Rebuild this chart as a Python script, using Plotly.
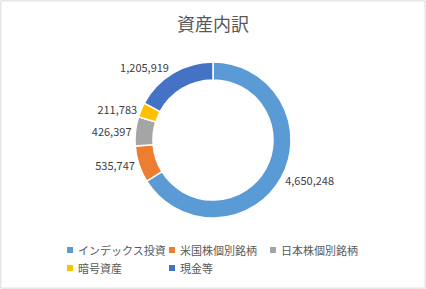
import plotly.graph_objects as go

categories = ["インデックス投資", "米国株個別銘柄", "日本株個別銘柄", "暗号資産", "現金等"]
values = [4650248, 535747, 426397, 211783, 1205919]
colors = ["#5B9BD5", "#ED7D31", "#A5A5A5", "#FFC000", "#4472C4"]
title = "資産内訳"

W, H = 426, 289
cx, cy, r = 213, 140, 78

fig = go.Figure(go.Pie(
    labels=categories,
    values=values,
    hole=0.77,
    sort=False,
    direction="clockwise",
    rotation=0,
    marker=dict(colors=colors, line=dict(color="white", width=1.5)),
    textposition="outside",
    texttemplate="%{value:,}",
    textfont=dict(size=11, color="#404040", family="Noto Sans CJK JP"),
    domain=dict(x=[(cx - r) / W, (cx + r) / W], y=[1 - (cy + r) / H, 1 - (cy - r) / H]),
    showlegend=False,
))

# custom legend laid out in a 3-column grid (Excel style)
shapes = [dict(type="rect", xref="paper", yref="paper", x0=0.002, y0=0.003, x1=0.998, y1=0.997,
               line=dict(color="#D9D9D9", width=1))]
annotations = []
col_x = [67, 169, 270]
row_y = [250, 268]
for i, (name, col) in enumerate(zip(categories, colors)):
    c, rw = i % 3, i // 3
    x0, y0 = col_x[c], row_y[rw]
    shapes.append(dict(type="rect", xref="paper", yref="paper",
                       x0=x0 / W, x1=(x0 + 6) / W, y0=1 - (y0 + 3) / H, y1=1 - (y0 - 3) / H,
                       fillcolor=col, line=dict(width=0)))
    annotations.append(dict(text=name, xref="paper", yref="paper", x=(x0 + 9) / W, y=1 - y0 / H,
                            xanchor="left", yanchor="middle", showarrow=False,
                            font=dict(size=11, color="#595959", family="Noto Sans CJK JP")))

fig.update_layout(
    width=W, height=H,
    margin=dict(l=0, r=0, t=0, b=0),
    paper_bgcolor="white",
    font=dict(family="Noto Sans CJK JP", color="#595959"),
    title=dict(text=title, x=0.5, xanchor="center", y=1 - 25 / H, yanchor="middle",
               font=dict(size=18, color="#595959", family="Noto Sans CJK JP")),
    shapes=shapes,
    annotations=annotations,
)

fig.write_html("out.html")
